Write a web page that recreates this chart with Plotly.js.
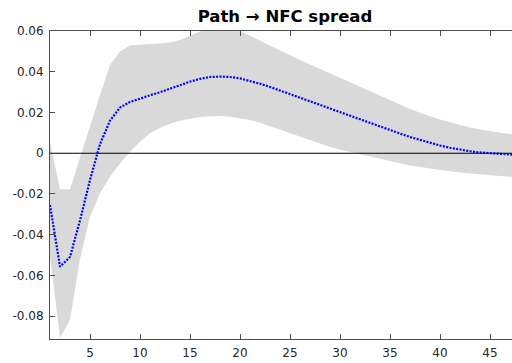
<!DOCTYPE html>
<html>
<head>
<meta charset="utf-8">
<script src="https://cdn.plot.ly/plotly-3.0.1.min.js"></script>
<style>
  html, body { margin: 0; padding: 0; overflow: hidden; background: #fff; }
  #chart { width: 520px; height: 363px; }
</style>
</head>
<body>
<div id="chart"></div>
<script>
// Impulse response horizons
const horizon = [];
for (let h = 1; h <= 48; h++) horizon.push(h);

// Median response of the NFC spread to a path shock
const median = [
  -0.0254, -0.0557, -0.0510, -0.0330, -0.0131, 0.0045, 0.0160, 0.0225, 0.0252, 0.0270,
  0.0285, 0.0300, 0.0318, 0.0335, 0.0352, 0.0366, 0.0375, 0.0377, 0.0375, 0.0368,
  0.0356, 0.0342, 0.0326, 0.0309, 0.0291, 0.0273, 0.0256, 0.0238, 0.0220, 0.0202,
  0.0186, 0.0168, 0.0150, 0.0132, 0.0114, 0.0097, 0.0080, 0.0065, 0.0051, 0.0038,
  0.0027, 0.0018, 0.0010, 0.0004, 0.0000, -0.0004, -0.0007, -0.0009
];

// Upper bound of the credible band
const upper = [
  0.0057, -0.0177, -0.0177, -0.0020, 0.0139, 0.0287, 0.0434, 0.0500, 0.0530, 0.0535,
  0.0537, 0.0540, 0.0545, 0.0557, 0.0578, 0.0598, 0.0610, 0.0616, 0.0612, 0.0598,
  0.0578, 0.0556, 0.0530, 0.0505, 0.0480, 0.0458, 0.0436, 0.0414, 0.0392, 0.0370,
  0.0348, 0.0326, 0.0304, 0.0282, 0.0260, 0.0238, 0.0218, 0.0199, 0.0182, 0.0166,
  0.0152, 0.0139, 0.0127, 0.0117, 0.0108, 0.0101, 0.0095, 0.0090
];

// Lower bound of the credible band
const lower = [
  -0.0505, -0.0907, -0.0819, -0.0520, -0.0311, -0.0197, -0.0115, -0.0050, 0.0008, 0.0057,
  0.0098, 0.0125, 0.0145, 0.0160, 0.0170, 0.0178, 0.0182, 0.0183, 0.0180, 0.0173,
  0.0164, 0.0150, 0.0133, 0.0117, 0.0098, 0.0080, 0.0064, 0.0047, 0.0031, 0.0017,
  0.0006, -0.0006, -0.0018, -0.0029, -0.0040, -0.0050, -0.0060, -0.0068, -0.0076, -0.0083,
  -0.0089, -0.0095, -0.0100, -0.0105, -0.0109, -0.0112, -0.0115, -0.0117
];

// Axis ticks
const xTickVals = [5, 10, 15, 20, 25, 30, 35, 40, 45];
const yTickVals = [-0.08, -0.06, -0.04, -0.02, 0, 0.02, 0.04, 0.06];
const yTickText = ['-0.08', '-0.06', '-0.04', '-0.02', '0', '0.02', '0.04', '0.06'];

const bandColor = 'rgb(217,217,217)';
const axisColor = '#4d4d4d';
const tickFont = { family: 'DejaVu Sans, sans-serif', size: 12, color: '#262626' };

const traces = [
  {
    x: horizon, y: lower, type: 'scatter', mode: 'lines',
    line: { width: 0, color: bandColor }, hoverinfo: 'skip', showlegend: false
  },
  {
    x: horizon, y: upper, type: 'scatter', mode: 'lines', fill: 'tonexty',
    fillcolor: bandColor, line: { width: 0, color: bandColor },
    hoverinfo: 'skip', showlegend: false
  },
  {
    // horizontal reference at zero, drawn above the band
    x: [horizon[0], horizon[horizon.length - 1]], y: [0, 0],
    type: 'scatter', mode: 'lines',
    line: { color: '#000', width: 1 }, showlegend: false
  },
  {
    x: horizon, y: median, type: 'scatter', mode: 'lines',
    line: { color: 'rgb(0,0,255)', width: 2.2, dash: '2px,1.4px' },
    showlegend: false
  }
];

const layout = {
  width: 520,
  height: 363,
  margin: { l: 50, r: 0, t: 31, b: 24 },
  paper_bgcolor: '#fff',
  plot_bgcolor: '#fff',
  showlegend: false,
  title: {
    text: '<b>Path \u2192 NFC spread</b>',
    font: { family: 'DejaVu Sans, sans-serif', size: 16.5, color: '#000' },
    x: 0.5, xref: 'paper', xanchor: 'center',
    y: 1, yref: 'container', yanchor: 'top', pad: { t: 10 }
  },
  xaxis: {
    range: [1, 48],
    tickmode: 'array', tickvals: xTickVals,
    ticks: 'inside', ticklen: 5, tickwidth: 1, tickcolor: axisColor,
    showline: true, linecolor: axisColor, linewidth: 1, mirror: 'ticks',
    showgrid: false, zeroline: false,
    tickfont: tickFont, ticklabelstandoff: 3
  },
  yaxis: {
    range: [-0.0913, 0.0601],
    tickmode: 'array', tickvals: yTickVals, ticktext: yTickText,
    ticks: 'inside', ticklen: 5, tickwidth: 1, tickcolor: axisColor,
    showline: true, linecolor: axisColor, linewidth: 1, mirror: 'ticks',
    showgrid: false, zeroline: false,
    tickfont: tickFont, ticklabelstandoff: 3
  }
};

Plotly.newPlot('chart', traces, layout, { staticPlot: true, displayModeBar: false });
</script>
</body>
</html>
